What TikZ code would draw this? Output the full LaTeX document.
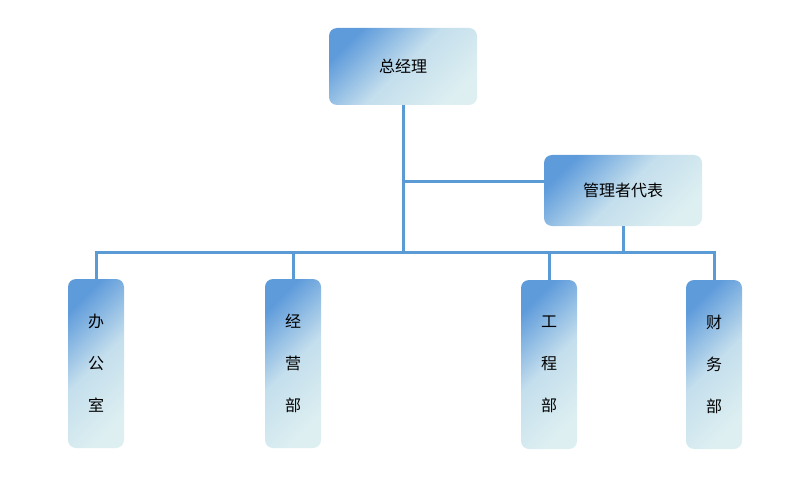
\documentclass[tikz,border=0pt]{standalone}
\usepackage{fontspec}
\newfontfamily\cjk{Noto Sans CJK SC}
\definecolor{lineblue}{HTML}{5B9BD5}
\definecolor{dark}{HTML}{5E9BDB}
\definecolor{light}{HTML}{DDEFF1}
\begin{document}
\begin{tikzpicture}[x=1pt,y=-1pt,
  box/.style={rounded corners=8pt,top color=dark,bottom color=light,middle color=light!80!dark,shading=axis,shading angle=45,draw=none,inner sep=0pt,font=\cjk\fontsize{16}{16}\selectfont},
  tall/.style={box,minimum width=56pt,minimum height=169pt,align=center,font=\cjk\fontsize{16}{42}\selectfont},
  conn/.style={lineblue,line width=3pt}]
\useasboundingbox (0,0) rectangle (799,478);
\node[box,minimum width=148pt,minimum height=77pt] (gm) at (403,66.5) {总经理};
\node[box,minimum width=158pt,minimum height=71pt] (mr) at (623,190.5) {管理者代表};
\node[tall] (b1) at (96,363.5) {办\\公\\室};
\node[tall] (b2) at (293,363.5) {经\\营\\部};
\node[tall] (b3) at (549,364.5) {工\\程\\部};
\node[tall] (b4) at (714,364.5) {财\\务\\部};
\coordinate (j) at (403,252);
\draw[conn] (gm.south) -- (j);
\draw[conn] (403,182) -- (mr.west |- 403,182);
\draw[conn] (mr.south) -- (mr.south |- j);
\draw[conn] (b1.north) -- (96,252) -- (714,252) -- (b4.north);
\draw[conn] (b2.north) -- (b2.north |- j);
\draw[conn] (b3.north) -- (b3.north |- j);
\end{tikzpicture}
\end{document}
